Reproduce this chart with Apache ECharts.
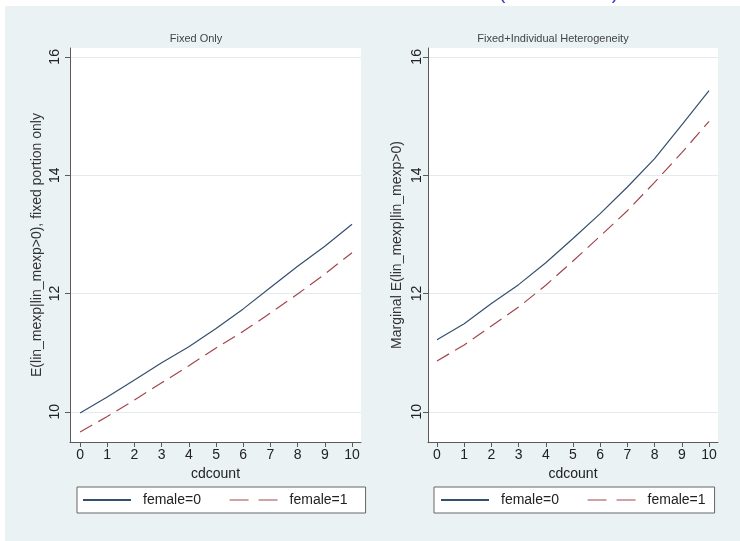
<!DOCTYPE html>
<html><head><meta charset="utf-8">
<script src="https://cdn.jsdelivr.net/npm/echarts@6/dist/echarts.min.js"></script>
<style>html,body{margin:0;padding:0;background:#fff}#c{width:740px;height:541px}</style>
</head><body><div id="c"></div>
<script>
// ---- data ----
const cdcount = [0, 1, 2, 3, 4, 5, 6, 7, 8, 9, 10];
const fixedFemale0 = [9.98, 10.25, 10.54, 10.83, 11.10, 11.41, 11.74, 12.10, 12.46, 12.80, 13.17];
const fixedFemale1 = [9.66, 9.92, 10.20, 10.49, 10.78, 11.08, 11.36, 11.67, 11.99, 12.33, 12.69];
const hetFemale0 = [11.22, 11.49, 11.83, 12.15, 12.52, 12.93, 13.35, 13.80, 14.28, 14.85, 15.43];
const hetFemale1 = [10.86, 11.13, 11.45, 11.77, 12.14, 12.55, 12.97, 13.40, 13.88, 14.38, 14.91];
const xTicks = [0, 1, 2, 3, 4, 5, 6, 7, 8, 9, 10];
const yTicks = [10, 12, 14, 16];
const panelTitles = ['Fixed Only', 'Fixed+Individual Heterogeneity'];
const yNames = ['E(lin_mexp|lin_mexp>0), fixed portion only', 'Marginal E(lin_mexp|lin_mexp>0)'];
const xName = 'cdcount';
const seriesNames = ['female=0', 'female=1'];

// ---- chart ----
const FONT = '"Liberation Sans", Arial, sans-serif';
const C0 = '#34506f', C1 = '#a3464d';
const pairs = (ys) => cdcount.map((x, i) => [x, ys[i]]);

const grids = [
  {left: 70, top: 48, width: 291, height: 394},
  {left: 428, top: 48, width: 290, height: 394}
].map(g => Object.assign(g, {show: true, backgroundColor: '#fff', borderWidth: 0, containLabel: false}));

const xMins = [-0.37, -0.33];
const yLabelMargins = [8, 4];
const yNameGaps = [26, 24];

const xAxes = [0, 1].map(i => ({
  type: 'value', gridIndex: i, min: xMins[i], max: 10.33,
  name: xName, nameLocation: 'middle', nameGap: 21,
  nameTextStyle: {fontFamily: FONT, fontSize: 14, color: '#222'},
  axisLine: {show: true, onZero: false, lineStyle: {color: '#5a5a5a', width: 1}},
  axisTick: {show: true, length: 5, customValues: xTicks, lineStyle: {color: '#5a5a5a'}},
  axisLabel: {customValues: xTicks, margin: 6, fontFamily: FONT, fontSize: 14, color: '#222'},
  splitLine: {show: false}
}));

const yAxes = [0, 1].map(i => ({
  type: 'value', gridIndex: i, min: 9.49, max: 16.15,
  name: yNames[i], nameLocation: 'middle', nameGap: yNameGaps[i],
  nameTextStyle: {fontFamily: FONT, fontSize: 14, color: '#333'},
  axisLine: {show: true, onZero: false, lineStyle: {color: '#5a5a5a', width: 1}},
  axisTick: {show: true, length: 5, customValues: yTicks, lineStyle: {color: '#5a5a5a'}},
  axisLabel: {customValues: yTicks, rotate: 90, margin: yLabelMargins[i], fontFamily: FONT, fontSize: 14, color: '#222'},
  splitLine: {show: true, lineStyle: {color: '#e3ebee', width: 1}}
}));

const mkSeries = (name, ys, idx, color, dashed) => ({
  type: 'line', name, xAxisIndex: idx, yAxisIndex: idx, data: pairs(ys),
  symbol: 'none', showSymbol: false, smooth: false, silent: true, animation: false,
  lineStyle: {color, width: 1.2, type: dashed ? [14, 7] : 'solid'},
  itemStyle: {color}
});

const series = [
  mkSeries(seriesNames[0], fixedFemale0, 0, C0, false),
  mkSeries(seriesNames[1], fixedFemale1, 0, C1, true),
  mkSeries(seriesNames[0], hetFemale0, 1, C0, false),
  mkSeries(seriesNames[1], hetFemale1, 1, C1, true)
];

const legendBase = {
  top: 487, orient: 'horizontal', itemWidth: 48, itemHeight: 14, itemGap: 28,
  backgroundColor: '#fff', borderColor: '#666', borderWidth: 1, borderRadius: 0,
  selectedMode: false,
  itemStyle: {opacity: 0},
  data: [
    {name: seriesNames[0], itemStyle: {opacity: 0}},
    {name: seriesNames[1], itemStyle: {opacity: 0}, lineStyle: {type: [19, 10], width: 1.2}}
  ],
  textStyle: {fontFamily: FONT, fontSize: 14, color: '#222', padding: [0, 0, 0, 7]}
};
const legends = [
  Object.assign({}, legendBase, {left: 77, padding: [6, 18, 6, 5]}),
  Object.assign({}, legendBase, {left: 434, padding: [6, 9, 6, 6]})
];

const titleX = [196, 553];
const graphic = [
  {type: 'rect', z: -10, silent: true, shape: {x: 5, y: 6, width: 735, height: 535}, style: {fill: '#eaf2f3'}},
  {type: 'text', x: 502, y: -7, silent: true, style: {text: '(', fontFamily: FONT, fontSize: 20, fill: '#3a3ac8', align: 'center', verticalAlign: 'middle'}},
  {type: 'text', x: 615, y: -7, silent: true, style: {text: ')', fontFamily: FONT, fontSize: 20, fill: '#3a3ac8', align: 'center', verticalAlign: 'middle'}}
].concat(panelTitles.map((t, i) => ({
  type: 'text', x: titleX[i], y: 39, silent: true,
  style: {text: t, fontFamily: FONT, fontSize: 11, fill: '#444', align: 'center', verticalAlign: 'middle'}
})));

const chart = echarts.init(document.getElementById('c'), null, {renderer: 'canvas'});
chart.setOption({
  backgroundColor: 'transparent',
  animation: false,
  grid: grids, xAxis: xAxes, yAxis: yAxes, series, legend: legends, graphic
});
</script>
</body></html>
